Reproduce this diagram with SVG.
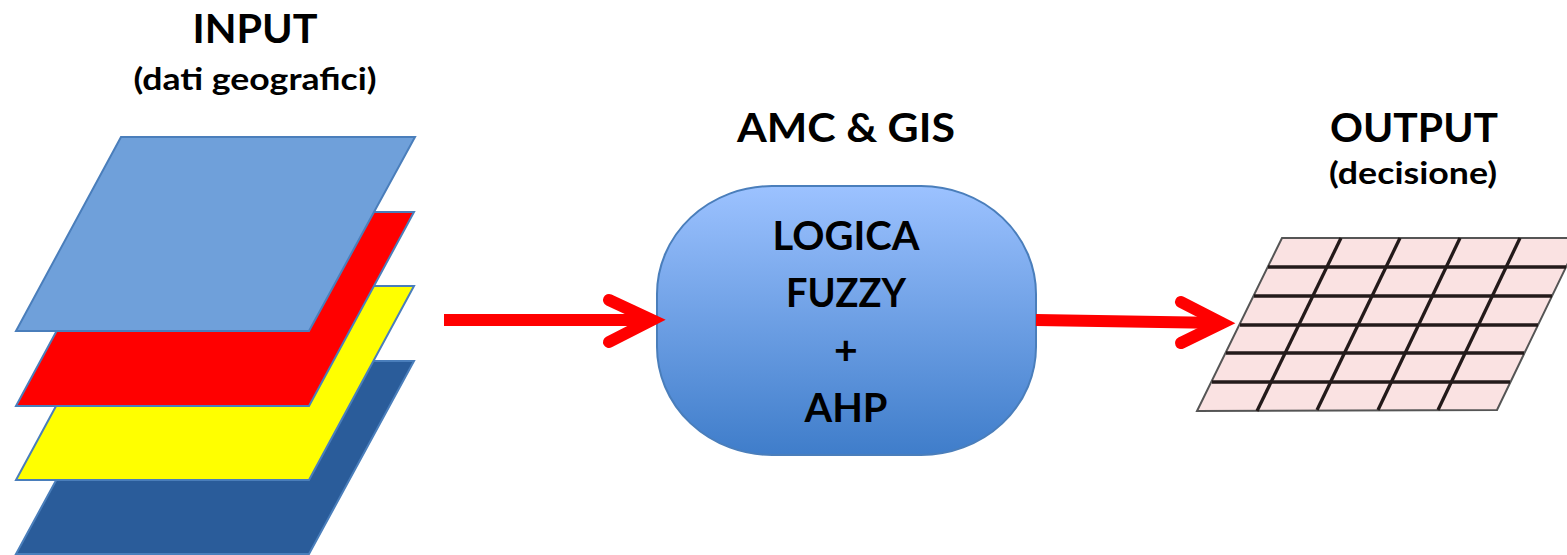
<svg xmlns="http://www.w3.org/2000/svg" width="1567" height="555" viewBox="0 0 1567 555">
  <style>
    .lbl { font-family: Lato, "Open Sans", "Liberation Sans", sans-serif; font-weight: bold; fill: #000; text-anchor: middle; }
    .big { font-size: 41px; }
    .sub { font-size: 30px; }
    .layer { stroke: #4A7EBB; stroke-width: 2; stroke-linejoin: miter; }
    .shaft { stroke: #FF0000; stroke-width: 12; fill: none; stroke-linecap: butt; }
    .head { stroke: #FF0000; stroke-width: 12; fill: none; stroke-linecap: round; stroke-linejoin: miter; }
    .grid { stroke: #231a1a; stroke-width: 3.3; fill: none; }
  </style>
  <defs>
    <linearGradient id="boxFill" x1="0" y1="0" x2="0" y2="1">
      <stop offset="0" stop-color="#9CC2FF"/>
      <stop offset="1" stop-color="#3F7DCA"/>
    </linearGradient>
  </defs>

  <rect width="1567" height="555" fill="#FFFFFF"/>

  <!-- Input: stacked geographic layers -->
  <g id="input">
    <polygon class="layer" fill="#2A5C9A" points="121,361 414,361 309,554 16,554"/>
    <polygon class="layer" fill="#FFFF00" points="121,286 414,286 309,480 16,480"/>
    <polygon class="layer" fill="#FF0000" points="121,212 414,212 309,406 16,406"/>
    <polygon class="layer" fill="#6FA0DA" points="121,137 415,137 309,331 16,331"/>
    <text class="lbl big" x="255" y="43" textLength="125" lengthAdjust="spacingAndGlyphs">INPUT</text>
    <text class="lbl sub" x="255" y="90" textLength="243" lengthAdjust="spacingAndGlyphs">(dati geografici)</text>
  </g>

  <!-- Processing: AMC & GIS -->
  <g id="amc-gis">
    <rect x="657" y="186" width="379" height="269" rx="115" ry="108" fill="url(#boxFill)" stroke="#4A7EBB" stroke-width="2"/>
    <text class="lbl big" x="846" y="142" textLength="218" lengthAdjust="spacingAndGlyphs">AMC &amp; GIS</text>
    <text class="lbl big" x="846" y="250" textLength="147" lengthAdjust="spacingAndGlyphs">LOGICA</text>
    <text class="lbl big" x="846" y="307" textLength="120" lengthAdjust="spacingAndGlyphs">FUZZY</text>
    <text class="lbl big" x="846" y="364">+</text>
    <text class="lbl big" x="846" y="422" textLength="83" lengthAdjust="spacingAndGlyphs">AHP</text>
  </g>

  <!-- Output: decision grid -->
  <g id="output">
    <polygon points="1282,238 1580,238 1497,410 1197,411" fill="#FAE2E2" stroke="#555" stroke-width="2"/>
    <g class="grid">
      <line x1="1268" y1="267" x2="1566" y2="267"/>
      <line x1="1254" y1="296" x2="1552" y2="296"/>
      <line x1="1240" y1="325" x2="1538" y2="325"/>
      <line x1="1226" y1="353" x2="1524" y2="353"/>
      <line x1="1212" y1="382" x2="1510" y2="382"/>
      <line x1="1341" y1="238" x2="1257" y2="411"/>
      <line x1="1400" y1="238" x2="1317" y2="410"/>
      <line x1="1460" y1="238" x2="1378" y2="410"/>
      <line x1="1520" y1="238" x2="1438" y2="410"/>
    </g>
    <text class="lbl big" x="1414" y="142" textLength="168" lengthAdjust="spacingAndGlyphs">OUTPUT</text>
    <text class="lbl sub" x="1413" y="184" textLength="168" lengthAdjust="spacingAndGlyphs">(decisione)</text>
  </g>

  <!-- Connectors -->
  <g id="connectors">
    <line class="shaft" x1="444" y1="320" x2="652" y2="320"/>
    <polyline class="head" points="609,300 652,320 609,342"/>
    <line class="shaft" x1="1036" y1="320" x2="1222" y2="323"/>
    <polyline class="head" points="1181,302 1222,323 1181,343"/>
  </g>
</svg>
